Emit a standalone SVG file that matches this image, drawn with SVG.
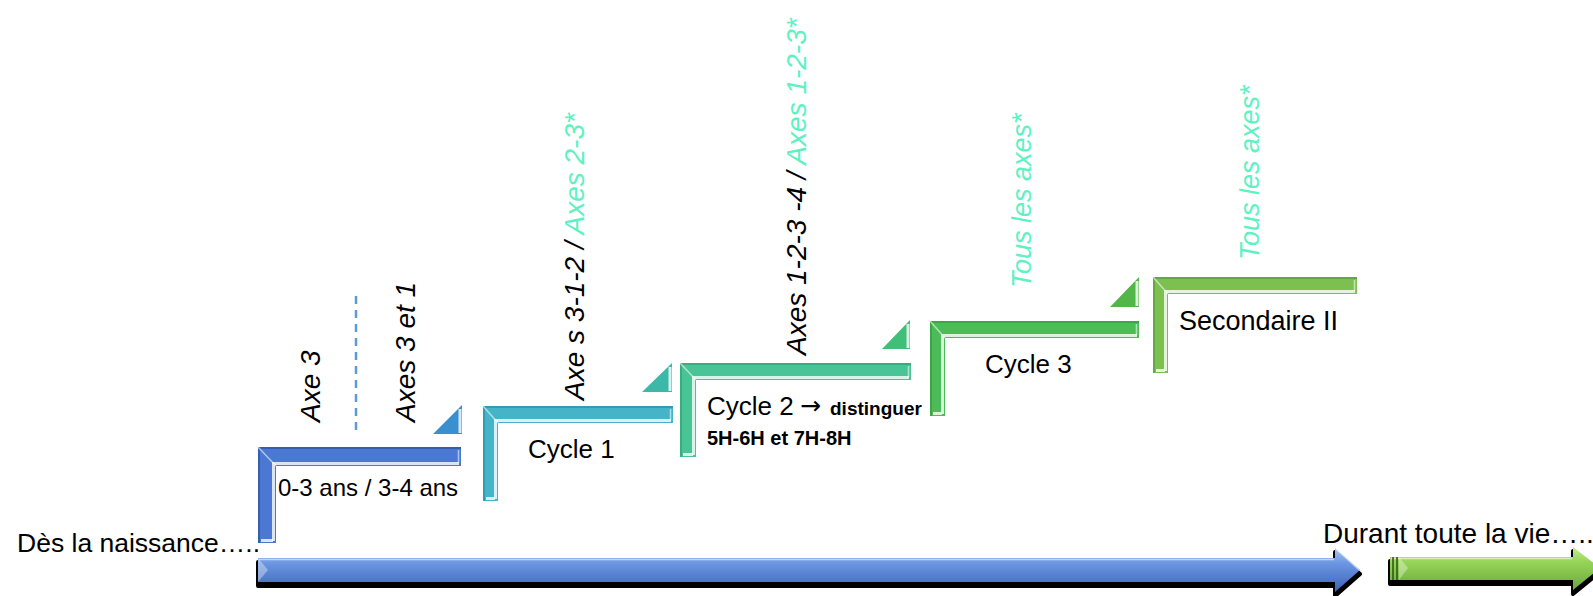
<svg xmlns="http://www.w3.org/2000/svg" width="1593" height="596" viewBox="0 0 1593 596">
<defs>
<linearGradient id="gBlueArrow" x1="0" y1="0" x2="0" y2="1">
<stop offset="0" stop-color="#a9c4f2"/><stop offset="0.35" stop-color="#6b96e2"/><stop offset="1" stop-color="#3b63b8"/>
</linearGradient>
<linearGradient id="gGreenArrow" x1="0" y1="0" x2="0" y2="1">
<stop offset="0" stop-color="#c4ec8c"/><stop offset="0.35" stop-color="#96d458"/><stop offset="1" stop-color="#6aa83a"/>
</linearGradient>
<style>
.lbl{font-family:"Liberation Sans",Arial,sans-serif;fill:#000}
.rot{font-style:italic;font-size:28px}
.acc{fill:#5CF2C2}
.hl{fill:none;stroke:#ffffff;stroke-opacity:.8;stroke-width:3}
.hl2{fill:none;stroke:#ffffff;stroke-opacity:.55;stroke-width:1.6}
.dk{fill:none;stroke-width:2;stroke-opacity:.7}
</style>
</defs>
<rect width="1593" height="596" fill="#ffffff"/>

<g id="connectors">
<g id="arrow-blue">
<path d="M258,558 H1335 V548 L1360,570 L1335,592 V582 H258 Z" fill="#000" stroke="#000" stroke-width="4" stroke-linejoin="round" transform="translate(0,4)"/>
<path d="M258,558 H1335 V548 L1360,570 L1335,592 V582 H258 Z" fill="url(#gBlueArrow)"/>
<path d="M259,559.5 H1334" class="hl2"/>
<path d="M258,558 L268,570 L258,582 Z" fill="#ffffff" fill-opacity=".35"/>
<path d="M1336,549 L1359,570" stroke="#ffffff" stroke-opacity=".5" stroke-width="1.5" fill="none"/>
</g>
<g id="arrow-green">
<path d="M1390,557 H1573 V547 L1600,568 L1573,590 V580 H1390 Z" fill="#000" stroke="#000" stroke-width="4" stroke-linejoin="round" transform="translate(0,4)"/>
<path d="M1390,557 H1573 V547 L1600,568 L1573,590 V580 H1390 Z" fill="url(#gGreenArrow)"/>
<path d="M1391,558.5 H1572" class="hl2"/>
<path d="M1393,557 V580 M1397,557 V580" stroke="#2f5a18" stroke-width="1.6"/>
<path d="M1399,557 L1408,568 L1399,580 Z" fill="#ffffff" fill-opacity=".35"/>
</g>
</g>

<g id="marker-dashed">
<line x1="356" y1="296" x2="356" y2="430" stroke="#5b9bd5" stroke-width="2.5" stroke-dasharray="8 6"/>
</g>

<g id="step-0-4ans">
<polygon points="258,447 461,447 461,466 276,466 276,543 258,543" fill="#4a78d2"/>
<polyline points="259,543 259,448 461,448" class="dk" stroke="#2d52a0"/>
<polyline points="459,463.5 273.5,463.5 273.5,541" class="hl"/>
<line x1="258" y1="447" x2="276" y2="466" class="hl2"/>
<line x1="458.5" y1="450" x2="458.5" y2="463" class="hl2"/>
<line x1="261" y1="540.5" x2="273" y2="540.5" class="hl"/>
<text class="lbl" x="278" y="496" font-size="24">0-3 ans / 3-4 ans</text>
</g>

<g id="tri-1">
<polygon points="433,434 462,434 462,405" fill="#3a8fcf"/>
<line x1="460" y1="409" x2="460" y2="433" class="hl"/>
</g>

<g id="step-cycle1">
<polygon points="483,406 673,406 673,423 498,423 498,501 483,501" fill="#45b4c8"/>
<polyline points="484,501 484,407 673,407" class="dk" stroke="#2a93a8"/>
<polyline points="671,420.5 495.5,420.5 495.5,499" class="hl"/>
<line x1="483" y1="406" x2="498" y2="423" class="hl2"/>
<line x1="670.5" y1="409" x2="670.5" y2="420" class="hl2"/>
<line x1="486" y1="498.5" x2="495" y2="498.5" class="hl"/>
<text class="lbl" x="528" y="458" font-size="26">Cycle 1</text>
</g>

<g id="tri-2">
<polygon points="642,392 672,392 672,363" fill="#3cb8a8"/>
<line x1="670" y1="367" x2="670" y2="391" class="hl"/>
</g>

<g id="step-cycle2">
<polygon points="680,363 911,363 911,380 696,380 696,457 680,457" fill="#48c496"/>
<polyline points="681,457 681,364 911,364" class="dk" stroke="#2ea576"/>
<polyline points="909,377.5 693.5,377.5 693.5,455" class="hl"/>
<line x1="680" y1="363" x2="696" y2="380" class="hl2"/>
<line x1="908.5" y1="366" x2="908.5" y2="377" class="hl2"/>
<line x1="683" y1="454.5" x2="693" y2="454.5" class="hl"/>
<text class="lbl" x="707" y="415" font-size="26">Cycle 2</text>
<text x="800" y="414" font-size="25" font-family="DejaVu Sans, sans-serif" fill="#000">→</text>
<text class="lbl" x="830" y="415" font-size="19" font-weight="bold">distinguer</text>
<text class="lbl" x="707" y="445" font-size="20" font-weight="bold">5H-6H et 7H-8H</text>
</g>

<g id="tri-3">
<polygon points="882,349 910,349 910,320" fill="#3fbf78"/>
<line x1="908" y1="324" x2="908" y2="348" class="hl"/>
</g>

<g id="step-cycle3">
<polygon points="930,321 1139,321 1139,338 945,338 945,416 930,416" fill="#4cbc58"/>
<polyline points="931,416 931,322 1139,322" class="dk" stroke="#379e40"/>
<polyline points="1137,335.5 942.5,335.5 942.5,414" class="hl"/>
<line x1="930" y1="321" x2="945" y2="338" class="hl2"/>
<line x1="1136.5" y1="324" x2="1136.5" y2="335" class="hl2"/>
<line x1="933" y1="413.5" x2="942" y2="413.5" class="hl"/>
<text class="lbl" x="985" y="373" font-size="26">Cycle 3</text>
</g>

<g id="tri-4">
<polygon points="1110,307 1139,307 1139,277" fill="#52b648"/>
<line x1="1137" y1="281" x2="1137" y2="306" class="hl"/>
</g>

<g id="step-secondaire">
<polygon points="1153,277 1357,277 1357,294 1168,294 1168,373 1153,373" fill="#7cc050"/>
<polyline points="1154,373 1154,278 1357,278" class="dk" stroke="#5c9e36"/>
<polyline points="1355,291.5 1165.5,291.5 1165.5,371" class="hl"/>
<line x1="1153" y1="277" x2="1168" y2="294" class="hl2"/>
<line x1="1354.5" y1="280" x2="1354.5" y2="291" class="hl2"/>
<line x1="1156" y1="370.5" x2="1165" y2="370.5" class="hl"/>
<text class="lbl" x="1179" y="330" font-size="27">Secondaire II</text>
</g>

<g id="axis-labels">
<text class="lbl rot" transform="translate(320,422) rotate(-90)">Axe 3</text>
<text class="lbl rot" transform="translate(415,422) rotate(-90)">Axes 3 et 1</text>
<text class="lbl rot" transform="translate(584,400) rotate(-90)">Axe s 3-1-2 / <tspan class="acc">Axes 2-3*</tspan></text>
<text class="lbl rot" transform="translate(806,355) rotate(-90)">Axes 1-2-3 -4 / <tspan class="acc">Axes 1-2-3*</tspan></text>
<text class="lbl rot acc" transform="translate(1031,288) rotate(-90)" style="font-size:27px">Tous les axes*</text>
<text class="lbl rot acc" transform="translate(1259,260) rotate(-90)" style="font-size:27px">Tous les axes*</text>
</g>

<g id="end-labels">
<text class="lbl" x="17" y="552" font-size="26.5">Dès la naissance…..</text>
<text class="lbl" x="1323" y="543" font-size="28">Durant toute la vie…..</text>
</g>
</svg>
